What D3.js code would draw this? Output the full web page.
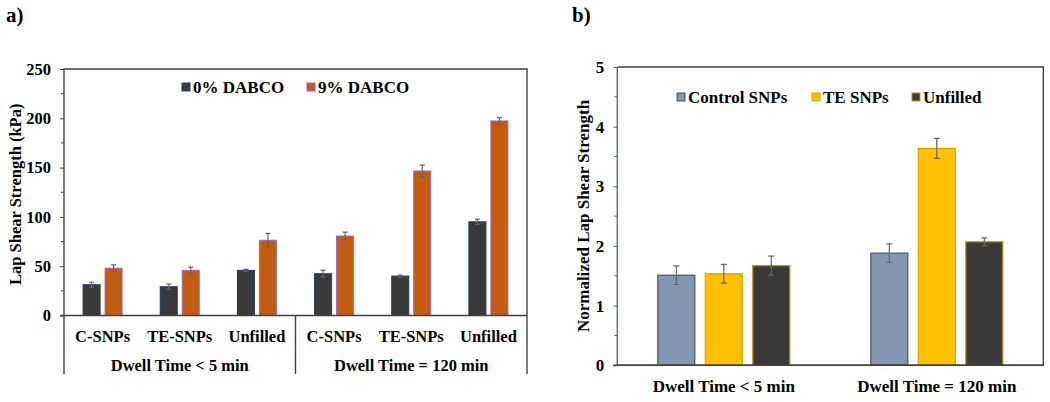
<!DOCTYPE html>
<html><head><meta charset="utf-8">
<script src="https://cdn.jsdelivr.net/npm/d3@7"></script>
<style>body{margin:0;background:#fff}svg{display:block}text{font-family:"Liberation Serif","Times New Roman",serif;font-weight:bold;fill:#000}</style>
</head><body><svg id="c" width="1050" height="402"></svg>
<script>
// ---- Panel a data ----
const aCategories = ["C-SNPs","TE-SNPs","Unfilled","C-SNPs ","TE-SNPs ","Unfilled "];
const aGroups = ["Dwell Time < 5 min","Dwell Time = 120 min"];
const aSeries = ["0% DABCO","9% DABCO"];
const aValues0 = [31.2, 29.2, 45.8, 42.4, 40.0, 95.0];
const aErr0    = [2.5, 2.7, 1.0, 3.3, 1.0, 2.7];
const aValues9 = [47.9, 45.8, 76.3, 80.6, 146.5, 197.3];
const aErr9    = [3.5, 3.3, 6.9, 4.0, 6.0, 3.4];
const aTicks = [0,50,100,150,200,250];
// ---- Panel b data ----
const bGroups = ["Dwell Time < 5 min","Dwell Time = 120 min"];
const bSeries = ["Control SNPs","TE SNPs","Unfilled"];
const bValues = {"Control SNPs":[1.51,1.88],"TE SNPs":[1.535,3.635],"Unfilled":[1.67,2.07]};
const bErr    = {"Control SNPs":[0.156,0.156],"TE SNPs":[0.156,0.167],"Unfilled":[0.16,0.067]};
const bTicks = [0,1,2,3,4,5];

const svg = d3.select("#c");

// ================= Panel a =================
(function(){
  const L=64,R=527,T=69,B=315.5,catBottom=374;
  const g = svg.append("g");
  const x = d3.scaleBand().domain(aCategories).range([L,R]);
  const xi = d3.scaleBand().domain(aSeries).range([0,x.bandwidth()]).paddingInner(0.227).paddingOuter(0.868);
  const y = d3.scaleLinear().domain([0,250]).range([B,T]);
  const fills = {"0% DABCO":"#3a3a3a","9% DABCO":"#c55a11"};
  const strokes = {"0% DABCO":"#1f3864","9% DABCO":"#9365cc"};
  const vals = {"0% DABCO":aValues0,"9% DABCO":aValues9};
  const errs = {"0% DABCO":aErr0,"9% DABCO":aErr9};

  const minor = d3.range(25,250,50);
  g.selectAll(".mn").data(minor).join("line").attr("x1",L-3).attr("x2",L).attr("y1",d=>y(d)).attr("y2",d=>y(d)).attr("stroke","#404040").attr("stroke-width",1);
  const ya = d3.axisLeft(y).tickValues(aTicks).tickFormat(d3.format("d")).tickSize(4).tickPadding(9);
  const yg = g.append("g").attr("transform",`translate(${L},0)`).call(ya);
  yg.select(".domain").remove();
  yg.selectAll(".tick line").attr("stroke","#404040");
  yg.selectAll("text").style("font-size","16.5px").attr("fill","#000");

  aSeries.forEach(s=>{
    g.selectAll(null).data(aCategories).join("rect")
      .attr("x",d=>x(d)+xi(s)).attr("width",xi.bandwidth())
      .attr("y",(d,i)=>y(vals[s][i])).attr("height",(d,i)=>B-y(vals[s][i]))
      .attr("fill",fills[s]).attr("stroke",strokes[s]).attr("stroke-width",1);
    const cx=(d)=>x(d)+xi(s)+xi.bandwidth()/2;
    g.selectAll(null).data(aCategories).join("path")
      .attr("d",(d,i)=>{const c=cx(d),v=vals[s][i],e=errs[s][i];
        return `M${c-2.5},${y(v+e)}H${c+2.5}M${c},${y(v+e)}V${y(v-e)}M${c-2.5},${y(v-e)}H${c+2.5}`;})
      .attr("stroke","#666").attr("stroke-width",1.2).attr("fill","none");
  });

  g.append("path").attr("d",`M${L},${catBottom}V${T}H${R}V${catBottom}`).attr("fill","none").attr("stroke","#404040").attr("stroke-width",1.4);
  g.append("line").attr("x1",L-4).attr("x2",R).attr("y1",B).attr("y2",B).attr("stroke","#404040").attr("stroke-width",1.4);
  const sep = x(aCategories[3]);
  g.append("line").attr("x1",sep).attr("x2",sep).attr("y1",B).attr("y2",catBottom).attr("stroke","#404040").attr("stroke-width",1.4);

  g.selectAll(".cl").data(aCategories).join("text")
    .attr("x",d=>x(d)+x.bandwidth()/2).attr("y",342).attr("text-anchor","middle")
    .style("font-size","16.5px").text(d=>d.trim());
  g.selectAll(".gl").data(aGroups).join("text")
    .attr("x",(d,i)=>(x(aCategories[i*3])+x(aCategories[i*3+2])+x.bandwidth())/2).attr("y",371).attr("text-anchor","middle")
    .style("font-size","16.5px").text(d=>d);

  g.append("text").attr("transform",`translate(21,${(T+B)/2+2}) rotate(-90)`).attr("text-anchor","middle")
    .style("font-size","16.5px").text("Lap Shear Strength (kPa)");
  g.append("text").attr("x",6).attr("y",22).style("font-size","21px").text("a)");

  const legX=[182,307];
  aSeries.forEach((s,i)=>{
    g.append("rect").attr("x",legX[i]).attr("y",83).attr("width",8).attr("height",8).attr("fill",fills[s]).attr("stroke",strokes[s]).attr("stroke-width",1);
    g.append("text").attr("x",legX[i]+11).attr("y",93).style("font-size","17px").text(s);
  });
})();

// ================= Panel b =================
(function(){
  const L=617.3,R=1043.3,T=67,B=365.3;
  const g = svg.append("g");
  const x = d3.scaleBand().domain(bGroups).range([L,R]);
  const xi = d3.scaleBand().domain(bSeries).range([0,x.bandwidth()]).paddingInner(0.221).paddingOuter(0.853);
  const y = d3.scaleLinear().domain([0,5]).range([B,T]);
  const fills = {"Control SNPs":"#8497b0","TE SNPs":"#ffc000","Unfilled":"#3a3a3a"};
  const strokes = {"Control SNPs":"#44546a","TE SNPs":"#d9a400","Unfilled":"#bf9000"};

  const minor = d3.range(0.5,5,1);
  g.selectAll(".mn").data(minor).join("line").attr("x1",L-3).attr("x2",L).attr("y1",d=>y(d)).attr("y2",d=>y(d)).attr("stroke","#4f6b9a").attr("stroke-width",1);
  const ya = d3.axisLeft(y).tickValues(bTicks).tickFormat(d3.format("d")).tickSize(4).tickPadding(9);
  const yg = g.append("g").attr("transform",`translate(${L},0)`).call(ya);
  yg.select(".domain").remove();
  yg.selectAll(".tick line").attr("stroke","#4f6b9a");
  yg.selectAll("text").style("font-size","17px").attr("fill","#000");

  bSeries.forEach(s=>{
    g.selectAll(null).data(bGroups).join("rect")
      .attr("x",d=>x(d)+xi(s)).attr("width",xi.bandwidth())
      .attr("y",(d,i)=>y(bValues[s][i])).attr("height",(d,i)=>B-y(bValues[s][i]))
      .attr("fill",fills[s]).attr("stroke",strokes[s]).attr("stroke-width",1.2);
    const cx=(d)=>x(d)+xi(s)+xi.bandwidth()/2;
    g.selectAll(null).data(bGroups).join("path")
      .attr("d",(d,i)=>{const c=cx(d),v=bValues[s][i],e=bErr[s][i];
        return `M${c-3},${y(v+e)}H${c+3}M${c},${y(v+e)}V${y(v-e)}M${c-3},${y(v-e)}H${c+3}`;})
      .attr("stroke","#666").attr("stroke-width",1.2).attr("fill","none");
  });

  g.append("path").attr("d",`M${L},${T}H${R}V${B}H${L}`).attr("fill","none").attr("stroke","#404040").attr("stroke-width",1.4);
  g.append("line").attr("x1",L).attr("x2",L).attr("y1",T).attr("y2",B).attr("stroke","#4f6b9a").attr("stroke-width",1.4);
  g.append("line").attr("x1",L-4).attr("x2",R).attr("y1",B).attr("y2",B).attr("stroke","#404040").attr("stroke-width",1.4);

  g.selectAll(".gl").data(bGroups).join("text")
    .attr("x",d=>x(d)+x.bandwidth()/2).attr("y",392).attr("text-anchor","middle")
    .style("font-size","17px").text(d=>d);

  g.append("text").attr("transform",`translate(589,216) rotate(-90)`).attr("text-anchor","middle")
    .style("font-size","17px").text("Normalized Lap Shear Strength");
  g.append("text").attr("x",572).attr("y",22).style("font-size","21px").text("b)");

  const legX=[677,812,912];
  bSeries.forEach((s,i)=>{
    g.append("rect").attr("x",legX[i]).attr("y",93).attr("width",8).attr("height",8).attr("fill",fills[s]).attr("stroke",strokes[s]).attr("stroke-width",1);
    g.append("text").attr("x",legX[i]+11).attr("y",103).style("font-size","17px").text(s);
  });
})();
</script></body></html>
